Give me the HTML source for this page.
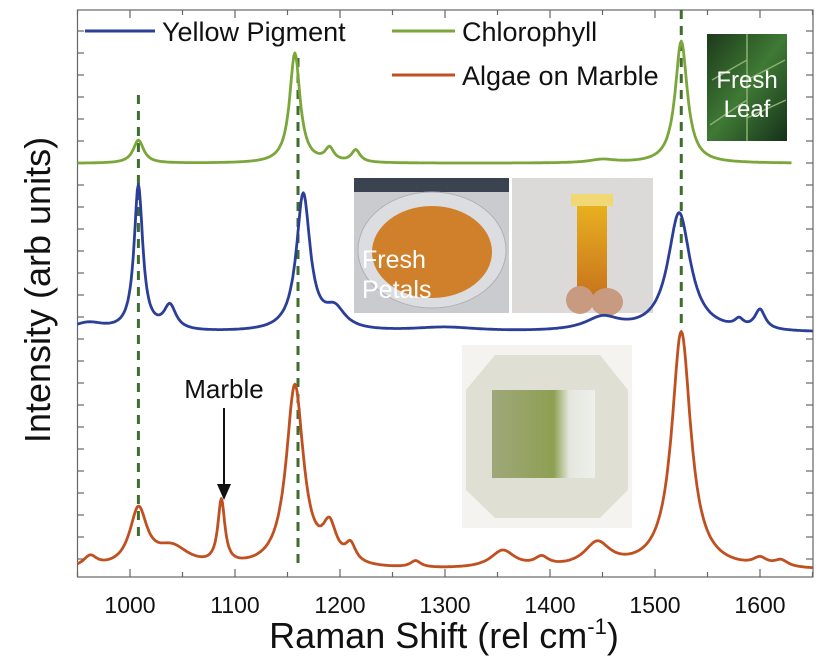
<!DOCTYPE html>
<html><head><meta charset="utf-8"><style>
body{margin:0;background:#fff;width:824px;height:665px;overflow:hidden;font-family:"Liberation Sans",sans-serif}
svg{display:block}
</style></head><body>
<svg id="chart" width="824" height="665" xmlns="http://www.w3.org/2000/svg">
<defs>
<linearGradient id="leafG" x1="0" y1="0" x2="1" y2="1"><stop offset="0" stop-color="#1d3a1a"/><stop offset="0.5" stop-color="#3f7a35"/><stop offset="1" stop-color="#16301a"/></linearGradient>
<linearGradient id="tubeG" x1="0" y1="0" x2="0" y2="1"><stop offset="0" stop-color="#e8b020"/><stop offset="1" stop-color="#c8741c"/></linearGradient>
<linearGradient id="algG" x1="0" y1="0" x2="1" y2="0"><stop offset="0" stop-color="#9ea77a"/><stop offset="0.6" stop-color="#8ea052"/><stop offset="0.75" stop-color="#e4e6de"/><stop offset="1" stop-color="#eef0ec"/></linearGradient>
</defs>
<g id="photos">
<g>
<rect x="707" y="34" width="80" height="107" fill="url(#leafG)"/>
<path d="M747 34 L747 141 M747 60 L712 80 M747 80 L785 60 M747 100 L710 125 M747 118 L786 100" stroke="#8ab070" stroke-width="1.5" fill="none"/>
<text x="747" y="88" font-size="24" fill="#fff" text-anchor="middle">Fresh</text>
<text x="747" y="117" font-size="24" fill="#fff" text-anchor="middle">Leaf</text>
</g>
<g>
<rect x="354" y="178" width="155" height="135" fill="#c9cbcf"/>
<rect x="354" y="178" width="155" height="14" fill="#3b4250"/>
<ellipse cx="432" cy="250" rx="74" ry="58" fill="#dcdde0" stroke="#aeb1b5"/>
<ellipse cx="432" cy="252" rx="60" ry="46" fill="#d0802a"/>
<text x="362" y="268" font-size="25" fill="#fff">Fresh</text>
<text x="362" y="298" font-size="25" fill="#fff">Petals</text>
</g>
<g>
<rect x="512" y="178" width="141" height="135" fill="#dcdad8"/>
<rect x="571" y="194" width="42" height="12" fill="#f2d875"/>
<rect x="577" y="206" width="30" height="90" fill="url(#tubeG)"/>
<ellipse cx="580" cy="300" rx="14" ry="14" fill="#c89a80"/>
<ellipse cx="607" cy="302" rx="16" ry="14" fill="#c89a80"/>
</g>
<g>
<rect x="462" y="345" width="170" height="183" fill="#f4f3f0"/>
<polygon points="495,355 600,355 628,390 628,490 600,518 495,518 466,490 466,390" fill="#dfdfd4"/>
<rect x="492" y="390" width="103" height="88" fill="url(#algG)"/>
</g>
</g>
<g id="axes"></g>
<g id="series"></g>
<g id="legend">
<line x1="85" y1="31" x2="155" y2="31" stroke="#2b3f99" stroke-width="3"/>
<text x="162" y="41" font-size="27" fill="#111">Yellow Pigment</text>
<line x1="392" y1="31" x2="455" y2="31" stroke="#7aa63a" stroke-width="3"/>
<text x="462" y="41" font-size="27" fill="#111">Chlorophyll</text>
<line x1="392" y1="75" x2="455" y2="75" stroke="#c0501f" stroke-width="3"/>
<text x="462" y="85" font-size="27" fill="#111">Algae on Marble</text>
</g>
<g>
<text x="224" y="398" font-size="26" fill="#111" text-anchor="middle">Marble</text>
<line x1="224" y1="408" x2="224" y2="486" stroke="#111" stroke-width="2"/>
<polygon points="217,484 231,484 224,500" fill="#111"/>
</g>
<text x="444" y="648" font-size="36" fill="#111" text-anchor="middle">Raman Shift (rel cm<tspan dy="-14" font-size="22">-1</tspan><tspan dy="14">)</tspan></text>
<text transform="translate(50,290) rotate(-90)" font-size="36" fill="#111" text-anchor="middle">Intensity (arb units)</text>
</svg>
<script>
const xTicks = [1000,1100,1200,1300,1400,1500,1600];
const refLines = [1008,1160,1525];
const greenBase = 18.8;
const greenPeaks = [1008,1157,1190,1215,1450,1525];
const greenHeights = [1.05,5.0,0.6,0.55,0.15,5.55];
const greenWidths = [6,6,5,5,15,7];
const blueBase = 11.1;
const bluePeaks = [960,1008,1038,1165,1195,1300,1450,1523,1580,1600];
const blueHeights = [0.4,6.6,1.1,6.2,0.9,0.2,0.6,5.4,0.35,0.9];
const blueWidths = [20,5,7,8,12,40,20,13,5,6];
const orangeBase = 0.3;
const orangePeaks = [962,1008,1040,1087,1157,1190,1210,1272,1355,1392,1445,1525,1600,1620];
const orangeHeights = [0.5,2.6,0.9,2.9,8.3,1.6,0.8,0.3,0.8,0.4,1.1,10.8,0.35,0.3];
const orangeWidths = [8,10,20,4,10,8,6,6,14,8,15,11,8,8];

const NS="http://www.w3.org/2000/svg";
const X0=77.5, XPX=1.05, Y0=577, YPX=22;
const sx=v=>X0+(v-950)*XPX;
const sy=v=>Y0-v*YPX;
function mk(t,a,p){const e=document.createElementNS(NS,t);for(const k in a)e.setAttribute(k,a[k]);p.appendChild(e);return e;}
const axes=document.getElementById('axes');
const ser=document.getElementById('series');
mk('rect',{x:77.5,y:10,width:735.5,height:567,fill:'none',stroke:'#666','stroke-width':1.2},axes);
for(let v=950;v<=1650;v+=50){
  const t=mk('line',{x1:sx(v),x2:sx(v),y1:577,y2:v%100==0?569:572,stroke:'#666','stroke-width':1.2},axes);
  
  
  mk('line',{x1:sx(v),x2:sx(v),y1:10,y2:v%100==0?18:15,stroke:'#666','stroke-width':1.2},axes);
}
xTicks.forEach(v=>{
  const t=mk('text',{x:sx(v),y:613,'font-size':23,'text-anchor':'middle',fill:'#111'},axes);
  
  
  t.textContent=v;
});
for(let i=1;i<=25;i++){
  const y=sy(i)+4;
  if(y<12)break;
  mk('line',{x1:77.5,x2:84,y1:y,y2:y,stroke:'#666','stroke-width':1.2},axes);
  mk('line',{x1:806,x2:813,y1:y,y2:y,stroke:'#666','stroke-width':1.2},axes);
}
const lineTops=[95,58,10], lineBots=[540,565,330];
refLines.forEach((v,i)=>{
  const l=mk('line',{x1:sx(v),x2:sx(v),y1:lineTops[i],y2:lineBots[i],stroke:'#3d6e2c','stroke-width':3,'stroke-dasharray':'9,7'},ser);
  
  
});
function spectrum(base,pk,h,w,x1,x2,name,color){
  let d='';
  for(let x=x1;x<=x2;x+=1){
    let y=base;
    for(let i=0;i<pk.length;i++){const u=(x-pk[i])/w[i];y+=h[i]/(1+u*u);}
    d+=(d?'L':'M')+sx(x).toFixed(1)+' '+sy(y).toFixed(1);
  }
  const p=mk('path',{d:d,fill:'none',stroke:color,'stroke-width':2.8,'stroke-linejoin':'round'},ser);
  
  
}
spectrum(orangeBase,orangePeaks,orangeHeights,orangeWidths,950,1650,'algae-on-marble-series','#c0501f');
spectrum(blueBase,bluePeaks,blueHeights,blueWidths,950,1650,'yellow-pigment-series','#2b3f99');
spectrum(greenBase,greenPeaks,greenHeights,greenWidths,950,1630,'chlorophyll-series','#7aa63a');
</script>
</body></html>
